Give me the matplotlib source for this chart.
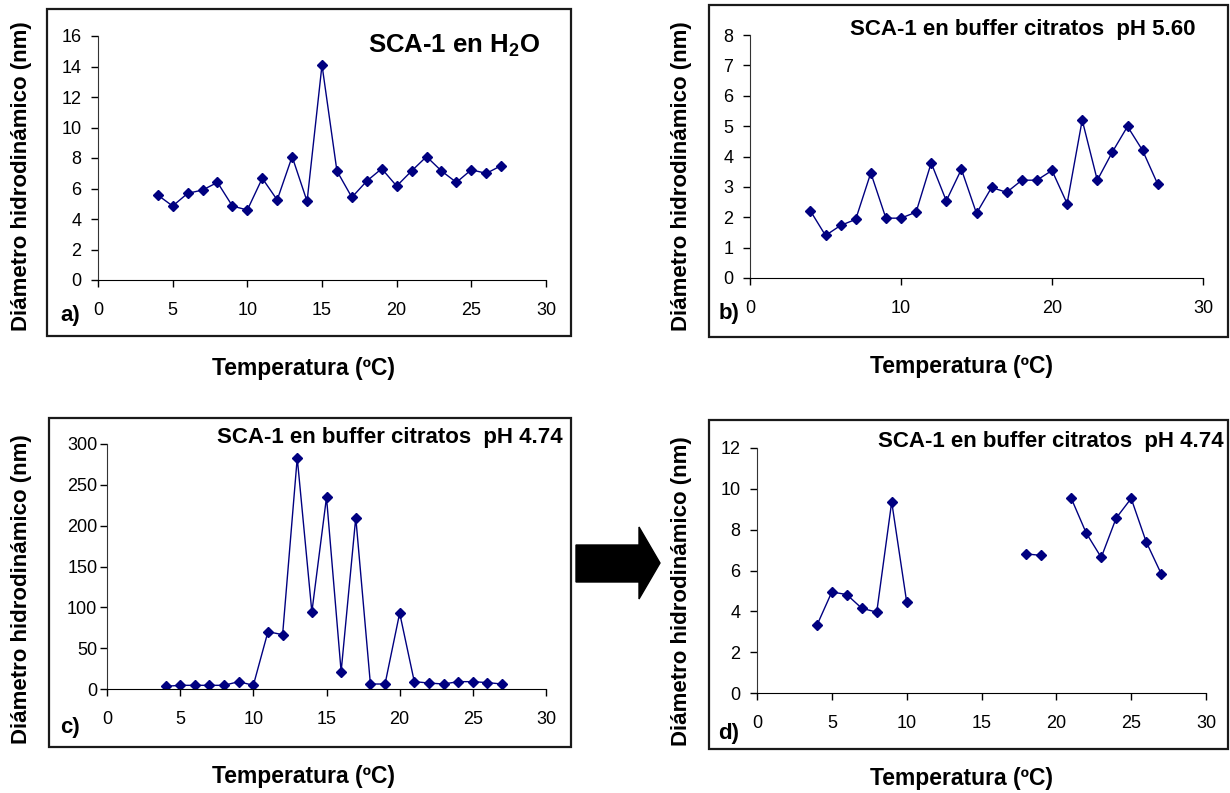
import numpy as np
import matplotlib
matplotlib.use('Agg')
import matplotlib.pyplot as plt
from matplotlib.patches import Rectangle, Polygon

plt.rcParams['font.family'] = ['Liberation Sans', 'DejaVu Sans']
plt.rcParams['mathtext.fontset'] = 'custom'
plt.rcParams['mathtext.rm'] = 'Liberation Sans'
plt.rcParams['mathtext.bf'] = 'Liberation Sans:bold'
plt.rcParams['mathtext.default'] = 'bf'

nan = np.nan
temp = list(range(4, 28))

# a) SCA-1 en H2O
d_h2o = [5.57, 4.85, 5.68, 5.90, 6.40, 4.85, 4.59, 6.67, 5.25, 8.09, 5.16, 14.10,
         7.15, 5.42, 6.49, 7.30, 6.16, 7.15, 8.09, 7.15, 6.40, 7.23, 6.99, 7.50]
# b) buffer citratos pH 5.60
d_ph560 = [2.21, 1.40, 1.73, 1.93, 3.46, 1.97, 1.97, 2.17, 3.79, 2.54, 3.58, 2.13,
           2.98, 2.82, 3.22, 3.22, 3.54, 2.45, 5.20, 3.22, 4.15, 4.99, 4.20, 3.09]
# c) buffer citratos pH 4.74
d_ph474 = [3.3, 4.5, 4.5, 4.5, 4.5, 9.0, 4.5, 70.2, 66.5, 283.0, 94.3, 234.7,
           21.2, 210.0, 6.1, 6.1, 93.0, 9.0, 7.3, 6.1, 9.0, 9.0, 7.8, 6.1]
# d) pH 4.74 sin los agregados grandes
d_ph474_zoom = [3.31, 4.95, 4.82, 4.15, 3.96, 9.36, 4.46, nan, nan, nan, nan, nan,
                nan, nan, 6.81, 6.74, nan, 9.53, 7.83, 6.64, 8.57, 9.53, 7.41, 5.85]

W, H = 1230, 793
fig = plt.figure(figsize=(W / 100, H / 100), dpi=100)


def rect(l, r, t, b):
    return [l / W, 1 - b / H, (r - l) / W, (b - t) / H]


panels = [
    dict(y=d_h2o, ymax=16, ystep=2, xstep=5, ax=(98, 546, 36, 280), frame=(47, 571, 9, 336),
         title=r'SCA-1 en H$_2$O', tsize=18.5, tpos=(540, 53), letter='a)', lpos=(70, 315),
         ylab=(22, 176), xlab=(303, 368), ypad=7),
    dict(y=d_ph560, ymax=8, ystep=1, xstep=10, ax=(750, 1203, 35, 278), frame=(709, 1228, 5, 337),
         title='SCA-1 en buffer citratos  pH 5.60', tsize=16, tpos=(1196, 35), letter='b)',
         lpos=(729, 313), ylab=(681, 176), xlab=(961, 367), ypad=7),
    dict(y=d_ph474, ymax=300, ystep=50, xstep=5, ax=(107, 546, 444, 689), frame=(49, 571, 418, 747),
         title='SCA-1 en buffer citratos  pH 4.74', tsize=16, tpos=(563, 443), letter='c)',
         lpos=(70, 727), ylab=(22, 589), xlab=(303, 777), ypad=2),
    dict(y=d_ph474_zoom, ymax=12, ystep=2, xstep=5, ax=(757, 1206, 448, 693), frame=(709, 1228, 420, 749),
         title='SCA-1 en buffer citratos  pH 4.74', tsize=16, tpos=(1224, 447), letter='d)',
         lpos=(729, 733), ylab=(681, 591), xlab=(961, 778), ypad=7),
]

for p in panels:
    l, r, t, b = p['frame']
    fig.patches.append(Rectangle((l / W, 1 - b / H), (r - l) / W, (b - t) / H,
                                 transform=fig.transFigure, fill=False,
                                 edgecolor='#1a1a1a', linewidth=1.6))
    ax = fig.add_axes(rect(*p['ax']))
    ax.plot(temp, p['y'], color='#000080', linewidth=1.0, marker='D',
            markersize=5, markerfacecolor='#000080', markeredgecolor='#000080')
    ax.set_xlim(0, 30)
    ax.set_ylim(0, p['ymax'])
    ax.set_xticks(np.arange(0, 31, p['xstep']))
    ax.set_yticks(np.arange(0, p['ymax'] + 0.001, p['ystep']))
    ax.spines['top'].set_visible(False)
    ax.spines['right'].set_visible(False)
    ax.spines['left'].set_color('#333333')
    ax.tick_params(axis='both', direction='out', length=5, width=1, labelsize=13)
    ax.tick_params(axis='x', pad=11)
    ax.tick_params(axis='y', pad=p['ypad'])
    ax.patch.set_alpha(0)

    fig.text(p['tpos'][0] / W, 1 - p['tpos'][1] / H, p['title'], ha='right',
             va='baseline', fontsize=p['tsize'], fontweight='bold')
    fig.text(p['lpos'][0] / W, 1 - p['lpos'][1] / H, p['letter'], ha='center',
             va='center', fontsize=16, fontweight='bold')
    fig.text(p['ylab'][0] / W, 1 - p['ylab'][1] / H, 'Diámetro hidrodinámico (nm)',
             rotation=90, ha='center', va='center', fontsize=16, fontweight='bold')
    fig.text(p['xlab'][0] / W, 1 - p['xlab'][1] / H, 'Temperatura (ºC)',
             ha='center', va='center', fontsize=16.5, fontweight='bold')

# flecha entre c) y d)
arrow_px = [(576, 545), (639, 545), (639, 527), (660, 563), (639, 599), (639, 582), (576, 582)]
fig.patches.append(Polygon([(x / W, 1 - y / H) for x, y in arrow_px], closed=True,
                           transform=fig.transFigure, facecolor='black', edgecolor='black'))

fig.savefig('out.png', dpi=100)
